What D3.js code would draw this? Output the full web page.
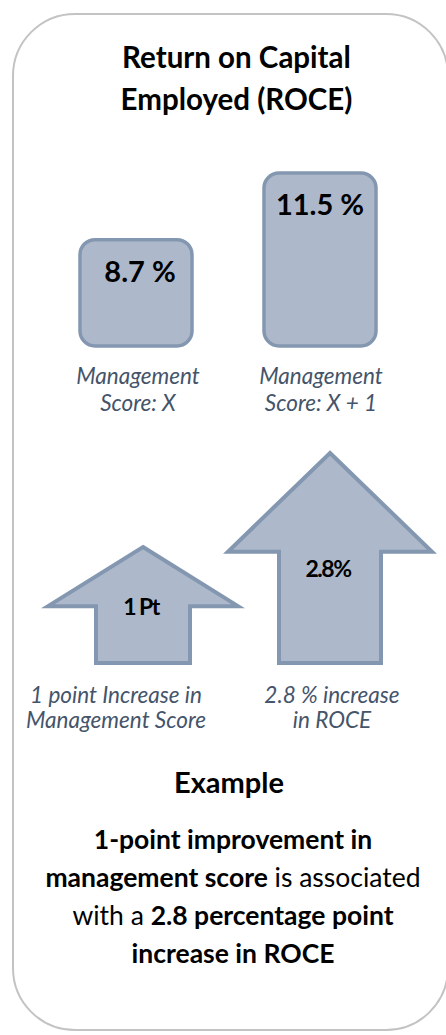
<!DOCTYPE html>
<html><head><meta charset="utf-8">
<script src="https://cdn.jsdelivr.net/npm/d3@7"></script>
<style>
html,body{margin:0;padding:0;background:#fff;}
svg{display:block;}
text{font-family:Lato,"Open Sans",sans-serif;}
</style></head>
<body>
<script>
// ---- data ----
const titleLines = ["Return on Capital", "Employed (ROCE)"];
const barCategories = ["Management Score: X", "Management Score: X + 1"];
const barCaptionLines = [["Management", "Score: X"], ["Management", "Score: X + 1"]];
const roceValues = [8.7, 11.5];
const roceLabels = ["8.7 %", "11.5 %"];
const arrowCategories = ["score", "roce"];
const arrowValues = [1, 2.8];
const arrowLabels = ["1 Pt", "2.8%"];
const arrowCaptionLines = [["1 point Increase in", "Management Score"], ["2.8 % increase", "in ROCE"]];
const exampleTitle = "Example";
const exampleLines = [
  [["1-point improvement in", true]],
  [["management score", true], [" is associated", false]],
  [["with a ", false], ["2.8 percentage point", true]],
  [["increase in ROCE", true]]
];

// ---- layout / style ----
const W = 446, H = 1035;
const FILL = "#adb9ca", STROKE = "#8497b0", CAP = "#44546a";
const svg = d3.select("body").append("svg").attr("width", W).attr("height", H);

// outer panel
svg.append("rect").attr("x", 13).attr("y", 14).attr("width", 435).attr("height", 1016)
  .attr("rx", 62).attr("ry", 62).attr("fill", "#fff").attr("stroke", "#c3c3c3").attr("stroke-width", 2);

// title
svg.append("g").selectAll("text").data(titleLines).join("text")
  .attr("x", 236.5).attr("y", (d, i) => 68 + i * 42)
  .attr("text-anchor", "middle").attr("font-weight", 700).attr("font-size", 29.5)
  .attr("fill", "#000").text(d => d);

// bars
const xBar = d3.scalePoint().domain(barCategories).range([136, 320]);
const yBar = d3.scaleLinear().domain([4.23, 11.5]).range([346, 173]);
const barW = 112;
const gb = svg.append("g");
gb.selectAll("rect").data(roceValues).join("rect")
  .attr("x", (d, i) => xBar(barCategories[i]) - barW / 2)
  .attr("y", d => yBar(d))
  .attr("width", barW).attr("height", d => yBar(4.23) - yBar(d))
  .attr("rx", 15).attr("ry", 15)
  .attr("fill", FILL).attr("stroke", STROKE).attr("stroke-width", 3.5);
gb.selectAll("text.v").data(roceValues).join("text").attr("class", "v")
  .attr("x", (d, i) => xBar(barCategories[i]) + (i === 0 ? 4 : 0))
  .attr("y", d => yBar(d) + 42)
  .attr("text-anchor", "middle").attr("font-weight", 700).attr("font-size", 29)
  .text((d, i) => roceLabels[i]);
barCaptionLines.forEach((lines, i) => {
  gb.append("g").selectAll("text").data(lines).join("text")
    .attr("x", xBar(barCategories[i]) + (i === 0 ? 2 : 1)).attr("y", (d, j) => 384 + j * 27)
    .attr("text-anchor", "middle").attr("font-style", "italic").attr("font-size", 22.5)
    .attr("fill", CAP).text(d => d);
});

// arrows
const xArr = d3.scalePoint().domain(arrowCategories).range([143, 330]);
const yArr = d3.scaleLinear().domain([-1.22, 2.8]).range([663, 453]);
const arrowStyle = [{ head: 95, shaft: 47, headFrac: 0.51 }, { head: 102, shaft: 51, headFrac: 0.47 }];
const ga = svg.append("g");
ga.selectAll("path").data(arrowValues).join("path")
  .attr("d", (d, i) => {
    const cx = xArr(arrowCategories[i]), tip = yArr(d), base = yArr(-1.22);
    const s = arrowStyle[i];
    const hb = tip + (base - tip) * s.headFrac;
    const p = d3.path();
    p.moveTo(cx, tip);
    p.lineTo(cx + s.head, hb);
    p.lineTo(cx + s.shaft, hb);
    p.lineTo(cx + s.shaft, base);
    p.lineTo(cx - s.shaft, base);
    p.lineTo(cx - s.shaft, hb);
    p.lineTo(cx - s.head, hb);
    p.closePath();
    return p.toString();
  })
  .attr("fill", FILL).attr("stroke", STROKE).attr("stroke-width", 4).attr("stroke-linejoin", "miter");
ga.selectAll("text.v").data(arrowValues).join("text").attr("class", "v")
  .attr("x", (d, i) => xArr(arrowCategories[i]) - 2)
  .attr("y", d => yArr(d) + (yArr(-1.22) - yArr(d)) * 0.59)
  .attr("text-anchor", "middle").attr("font-weight", 700).attr("font-size", 23)
  .attr("letter-spacing", -1.5)
  .text((d, i) => arrowLabels[i]);
const capX = [116, 332];
arrowCaptionLines.forEach((lines, i) => {
  ga.append("g").selectAll("text").data(lines).join("text")
    .attr("x", capX[i]).attr("y", (d, j) => 703 + j * 25)
    .attr("text-anchor", "middle").attr("font-style", "italic").attr("font-size", 22.5)
    .attr("fill", CAP).text(d => d);
});

// example text
svg.append("text").attr("x", 229).attr("y", 793).attr("text-anchor", "middle")
  .attr("font-weight", 700).attr("font-size", 29).text(exampleTitle);
const ex = svg.append("g");
exampleLines.forEach((parts, i) => {
  const t = ex.append("text").attr("x", 233).attr("y", 849 + i * 38)
    .attr("text-anchor", "middle").attr("font-size", 26.5);
  t.selectAll("tspan").data(parts).join("tspan")
    .attr("font-weight", d => d[1] ? 700 : 400).text(d => d[0]);
});
</script>
</body></html>
